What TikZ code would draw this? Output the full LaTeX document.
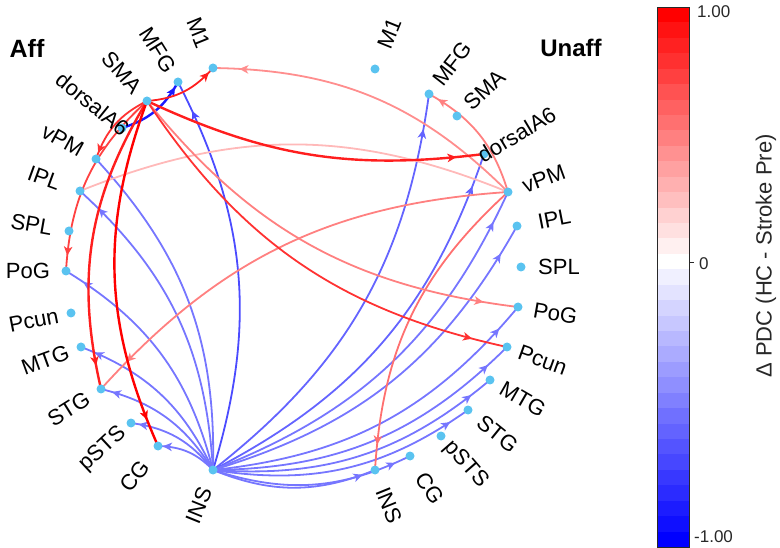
\documentclass[tikz,border=0pt]{standalone}
\usepackage{fontspec}
\setmainfont{Liberation Sans}
\usetikzlibrary{arrows.meta,decorations.markings,calc}
\pgfdeclarelayer{bg}
\pgfsetlayers{bg,main}
\definecolor{dotc}{RGB}{90,195,240}
\definecolor{rA}{RGB}{255,0,0}
\definecolor{rB}{RGB}{255,30,30}
\definecolor{rC}{RGB}{255,50,50}
\definecolor{rD}{RGB}{255,65,65}
\definecolor{pA}{RGB}{255,112,112}
\definecolor{pB}{RGB}{255,128,128}
\definecolor{pC}{RGB}{255,142,142}
\definecolor{pD}{RGB}{255,185,185}
\definecolor{bA}{RGB}{25,25,255}
\definecolor{bB}{RGB}{75,75,255}
\definecolor{bC}{RGB}{100,100,255}
\definecolor{bD}{RGB}{118,118,255}
\definecolor{txtgray}{RGB}{40,40,40}
\tikzset{
  dot/.style={circle, fill=dotc, inner sep=0pt, minimum size=9pt},
  lbl/.style={font=\fontsize{22}{22}\selectfont, inner sep=0pt},
  connbase/.style={line width=1.8pt, bend right=22},
  conn/.style={connbase,
    postaction={decorate, decoration={markings,
      mark=at position 0.92 with {\arrow{Stealth[length=9pt,width=8.5pt,inset=2.5pt]}}}}},
  strong/.style={line width=2.4pt},
}
\begin{document}
\begin{tikzpicture}[x=1pt,y=-1pt]
\useasboundingbox (0,0) rectangle (780,548);

% nodes
\foreach \n/\x/\y in {LM1/213/68, LMFG/178/82, LSMA/147/101, LdA6/122/128, LvPM/96/159,
  LIPL/80/191, LSPL/69/231, LPoG/66/271, LPcun/71/313, LMTG/81/347, LSTG/101/389,
  LpSTS/131/423, LCG/158/446, LINS/213/470,
  RM1/375/69, RMFG/429/94, RSMA/457/116, RdA6/484/154, RvPM/508/192, RIPL/517/226,
  RSPL/521/267, RPoG/518/307, RPcun/507/347, RMTG/490/380, RSTG/468/410,
  RpSTS/441/436, RCG/410/456, RINS/375/470}
  \node[dot] (\n) at (\x,\y) {};

% labels
\foreach \n/\a/\r/\t in {LM1/112/-68/M1, LMFG/122/-58/MFG, LSMA/131/-49/SMA, LdA6/141/-39/dorsalA6,
  LvPM/151/-29/vPM, LIPL/160/-20/IPL, LSPL/170/-10/SPL, LPoG/180/0/PoG, LPcun/191/11/Pcun,
  LMTG/200/20/MTG, LSTG/212/32/STG, LpSTS/223/43/pSTS, LCG/232/52/CG, LINS/248/68/INS,
  RM1/68/68/M1, RMFG/52/52/MFG, RSMA/43/43/SMA, RdA6/31/31/dorsalA6, RvPM/20/20/vPM,
  RIPL/11/11/IPL, RSPL/0/0/SPL, RPoG/-10/-10/PoG, RPcun/-20/-20/Pcun, RMTG/-30/-30/MTG,
  RSTG/-39/-39/STG, RpSTS/-49/-49/pSTS, RCG/-58/-58/CG, RINS/-68/-68/INS}
  \node[lbl, rotate=\r] (lab\n) at ($(\n.center)+(\a:38pt)$) {\t};

\node[font=\fontsize{25}{25}\selectfont\bfseries, inner sep=0pt] (aff) at (27,48) {Aff};
\node[font=\fontsize{24}{24}\selectfont\bfseries, inner sep=0pt] (unaff) at (571,48) {Unaff};

\begin{pgfonlayer}{bg}
% blue connectors
\draw[conn, color=bA, strong] (LdA6.center) to (LMFG.center);
\draw[conn, color=bB] (LINS.center) to (LMFG.center);
\draw[connbase, color=bD] (LINS.center) to (LvPM.center);
\foreach \t in {LIPL, LPoG, LMTG, LSTG, LpSTS, LCG}
  \draw[conn, color=bD] (LINS.center) to (\t.center);
\draw[conn, color=bC] (LINS.center) to (RMFG.center);
\draw[conn, color=bC] (LINS.center) to (RdA6.center);
\foreach \t in {RvPM, RIPL, RPoG, RPcun, RMTG, RSTG, RCG, RINS}
  \draw[conn, color=bD] (LINS.center) to (\t.center);
% pink connectors
\draw[connbase, color=pD] (RvPM.center) to (LIPL.center);
\draw[conn, color=pC] (RvPM.center) to (LM1.center);
\draw[conn, color=pB] (RvPM.center) to (LSTG.center);
\draw[conn, color=pA] (RvPM.center) to (RINS.center);
\draw[conn, color=pB] (RvPM.center) to (RMFG.center);
\draw[conn, color=pB] (LSMA.center) to (RPoG.center);
% red connectors
\draw[conn, color=rC] (LSMA.center) to (LvPM.center);
\draw[conn, color=rD] (LSMA.center) to (LPoG.center);
\draw[conn, color=rB] (LSMA.center) to (LM1.center);
\draw[conn, color=rC] (LSMA.center) to (RPcun.center);
\draw[conn, color=rB, strong, bend right=16] (LSMA.center) to (RdA6.center);
\draw[conn, color=rB, strong] (LSMA.center) to (LSTG.center);
\draw[conn, color=rA, strong] (LSMA.center) to (LCG.center);
\end{pgfonlayer}

% colour bar
\foreach \i in {0,...,34} {
  \pgfmathsetmacro\ya{7+\i*15.4286}
  \pgfmathsetmacro\yb{7+(\i+1)*15.4286+0.4}
  \ifnum\i<16
    \pgfmathtruncatemacro\p{(16-\i)*100/16}
    \fill[red!\p!white] (657,\ya) rectangle (689,\yb);
  \else
    \pgfmathtruncatemacro\p{min(100,round((\i-16)*100/18))}
    \fill[blue!\p!white] (657,\ya) rectangle (689,\yb);
  \fi
}
\node[draw=txtgray, line width=0.7pt, minimum width=32pt, minimum height=540pt, inner sep=0pt] (bar) at (673,277) {};
\coordinate (zt) at (689,262);
\draw[txtgray, line width=0.7pt] (zt) -- ++(5,0);
\node[anchor=west, font=\fontsize{17}{17}\selectfont, text=txtgray, inner sep=0pt] (t1) at (697,12) {1.00};
\node[anchor=west, font=\fontsize{17}{17}\selectfont, text=txtgray, inner sep=0pt] (t0) at (699,264) {0};
\node[anchor=west, font=\fontsize{17}{17}\selectfont, text=txtgray, inner sep=0pt] (tm1) at (694,537) {-1.00};
\node[rotate=90, font=\fontsize{22}{22}\selectfont, text=txtgray, inner sep=0pt] (cbl) at (766,256) {Δ PDC (HC - Stroke Pre)};
\end{tikzpicture}
\end{document}
